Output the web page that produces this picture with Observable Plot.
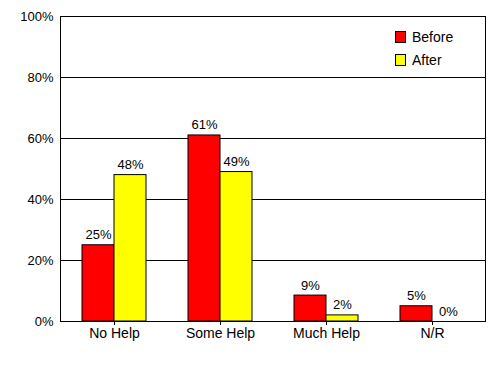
<!DOCTYPE html>
<html>
<head>
<meta charset="utf-8">
<script src="https://cdn.jsdelivr.net/npm/d3@7"></script>
<script src="https://cdn.jsdelivr.net/npm/@observablehq/plot@0.6"></script>
<style>
  body { margin: 0; background: white; font-family: Arial, "Liberation Sans", sans-serif; }
  #wrap { position: relative; width: 498px; height: 367px; }
  #legend { position: absolute; left: 395px; top: 25px; font-size: 14px; color: black; }
  .item { display: flex; align-items: center; height: 23px; }
  .sw { width: 9px; height: 10px; border: 1px solid black; margin-right: 6px; }
</style>
</head>
<body>
<div id="wrap">
  <div id="chart"></div>
  <div id="legend"></div>
</div>
<script>
const categories = ["No Help", "Some Help", "Much Help", "N/R"];
const seriesNames = ["Before", "After"];
const seriesColors = ["#ff0000", "#ffff00"];
const before = [25, 61, 8.5, 5];
const after = [48, 49, 2, 0];
const yTicks = [0, 20, 40, 60, 80, 100];

const dataBefore = categories.map((c, i) => ({category: c, value: before[i]}));
const dataAfter = categories.map((c, i) => ({category: c, value: after[i]}));
const fmt = d => Math.round(d.value) + "%";

const chart = Plot.plot({
  width: 498,
  height: 367,
  marginLeft: 60,
  marginRight: 13,
  marginTop: 16,
  marginBottom: 46,
  style: {fontFamily: "Arial, 'Liberation Sans', sans-serif", fontSize: "13px", color: "black", background: "white"},
  x: {domain: categories, paddingInner: 0.7, paddingOuter: 0.35, label: null, tickSize: 4, tickPadding: 3},
  y: {domain: [0, 100], ticks: yTicks, tickFormat: d => d + "%", label: null, tickSize: 0, tickPadding: 7},
  marks: [
    Plot.ruleY(yTicks, {stroke: "black", strokeOpacity: 1}),
    Plot.barY(dataBefore, {x: "category", y: "value", fill: seriesColors[0], stroke: "black", dx: -16}),
    Plot.barY(dataAfter, {x: "category", y: "value", fill: seriesColors[1], stroke: "black", dx: 16}),
    Plot.text(dataBefore, {x: "category", y: "value", text: fmt, dx: -16, dy: -6, lineAnchor: "bottom", fill: "black", fontSize: 13}),
    Plot.text(dataAfter, {x: "category", y: "value", text: fmt, dx: 16, dy: -6, lineAnchor: "bottom", fill: "black", fontSize: 13}),
    Plot.frame({stroke: "black"})
  ]
});
chart.querySelectorAll('[aria-label="x-axis tick label"] text, g[aria-label="x-axis tick label"]').forEach(e => e.setAttribute("font-size", "14"));
document.getElementById("chart").appendChild(chart);

const legend = document.getElementById("legend");
seriesNames.forEach((name, i) => {
  const item = document.createElement("div");
  item.className = "item";
  const sw = document.createElement("span");
  sw.className = "sw";
  sw.style.background = seriesColors[i];
  const label = document.createElement("span");
  label.textContent = name;
  item.appendChild(sw);
  item.appendChild(label);
  legend.appendChild(item);
});
</script>
</body>
</html>
